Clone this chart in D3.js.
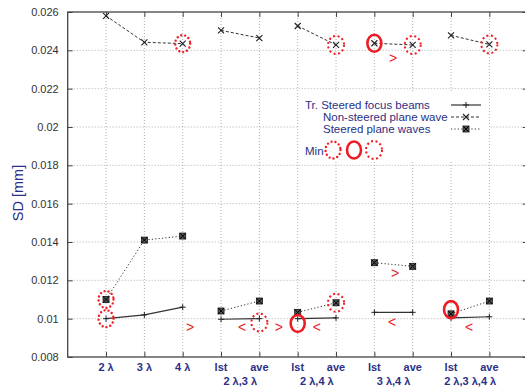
<!DOCTYPE html>
<html><head><meta charset="utf-8">
<script src="https://cdn.jsdelivr.net/npm/d3@7"></script>
<style>body{margin:0;background:#fff}svg{display:block}</style>
</head><body>
<svg id="c" width="525" height="390"></svg>
<script>
const categories = ["2 λ","3 λ","4 λ","lst","ave","lst","ave","lst","ave","lst","ave"];
const groupLabels = ["2 λ,3 λ","2 λ,4 λ","3 λ,4 λ","2 λ,3 λ,4 λ"];
const groupSpans = [[4,5],[6,7],[8,9],[10,11]];
const segments = [[0,1,2],[3,4],[5,6],[7,8],[9,10]];
const seriesNames = ["Tr. Steered focus beams","Non-steered plane wave","Steered plane waves"];
const steeredFocus = [0.0100,0.0102,0.0106,0.00997,0.0100,0.0100,0.01004,0.01033,0.01033,0.01004,0.0101];
const nonSteered = [0.0258,0.02442,0.02435,0.02504,0.02464,0.02527,0.02428,0.02437,0.02428,0.02478,0.02431];
const steeredPlane = [0.0110,0.0141,0.01431,0.0104,0.01092,0.01033,0.01083,0.01292,0.01273,0.01025,0.01092];
const yTicks = [0.008,0.01,0.012,0.014,0.016,0.018,0.02,0.022,0.024,0.026];
const yTickLabels = ["0.008","0.01","0.012","0.014","0.016","0.018","0.02","0.022","0.024","0.026"];
// Min markers: [category position, value]
const minDotted = [[1,0.0100],[1,0.0110],[3,0.02435]];
const minSolid = [[8,0.02437],[6,0.00975],[10,0.01047]];
const minDashed = [[5,0.0098],[7,0.02428],[7,0.01083],[9,0.02428],[11,0.02431]];
// chevrons: [position, value, glyph]
const chevrons = [[3.19,0.00957,">"],[4.55,0.00957,"<"],[5.51,0.00957,">"],[6.5,0.00957,"<"],[8.46,0.00985,"<"],[10.47,0.00957,"<"],[8.49,0.0236,">"],[8.54,0.01239,">"]];

const svg = d3.select("#c");
const L = 67.7, R = 527.7, T = 12, B = 357;
const x = d3.scaleLinear().domain([0,12]).range([L,R]);
const y = d3.scaleLinear().domain([0.008,0.026]).range([B,T]);
const navy = "#2b2f86";
const pos = categories.map((d,i)=>i+1);

// grid
const grid = svg.append("g").attr("stroke","#9a9a9a").attr("stroke-width",0.8).attr("stroke-dasharray","1,2");
yTicks.slice(1,-1).forEach(v=>grid.append("line").attr("x1",L).attr("x2",R).attr("y1",y(v)).attr("y2",y(v)));
pos.forEach(p=>grid.append("line").attr("x1",x(p)).attr("x2",x(p)).attr("y1",T).attr("y2",B));

// axes (ticks inward, mirrored)
const axL = d3.axisLeft(y).tickValues(yTicks).tickFormat((d,i)=>yTickLabels[i]).tickSize(-5).tickPadding(9);
const gL = svg.append("g").attr("transform",`translate(${L},0)`).call(axL);
gL.select(".domain").remove();
gL.selectAll("text").attr("font-family","Liberation Sans, Arial").attr("font-size",11).attr("fill","#333");
gL.selectAll("line").attr("stroke","#444");
const axR = d3.axisRight(y).tickValues(yTicks).tickFormat("").tickSize(-5);
const gR = svg.append("g").attr("transform",`translate(${R},0)`).call(axR);
gR.select(".domain").remove(); gR.selectAll("line").attr("stroke","#444");
const axB = d3.axisBottom(x).tickValues(pos).tickFormat("").tickSize(-5);
const gB = svg.append("g").attr("transform",`translate(0,${B})`).call(axB);
gB.select(".domain").remove(); gB.selectAll("line").attr("stroke","#444");
const axT = d3.axisTop(x).tickValues(pos).tickFormat("").tickSize(-5);
const gT = svg.append("g").attr("transform",`translate(0,${T})`).call(axT);
gT.select(".domain").remove(); gT.selectAll("line").attr("stroke","#444");
svg.append("rect").attr("x",L).attr("y",T).attr("width",R-L).attr("height",B-T)
  .attr("fill","none").attr("stroke","#444").attr("stroke-width",1.3);

// x labels
const xl = svg.append("g").attr("font-family","Liberation Sans, Arial").attr("font-size",11).attr("font-weight","bold").attr("fill",navy).attr("text-anchor","middle");
categories.forEach((c,i)=>xl.append("text").attr("x",x(pos[i])).attr("y",371).text(c));
groupLabels.forEach((g,i)=>xl.append("text").attr("x",(x(groupSpans[i][0])+x(groupSpans[i][1]))/2).attr("y",385).text(g));

// y title
svg.append("text").attr("transform","translate(23,193) rotate(-90)").attr("text-anchor","middle")
  .attr("font-family","Liberation Sans, Arial").attr("font-size",14.5).attr("fill",navy).text("SD [mm]");

// series
const seriesData = [steeredFocus, nonSteered, steeredPlane];
const dashes = [null,"3,2","1.2,2.2"];
const line = d3.line().x(d=>x(d[0])).y(d=>y(d[1]));
function marker(g,type,cx,cy){
  if(type===0){
    g.append("path").attr("d",`M${cx-3},${cy}H${cx+3}M${cx},${cy-3}V${cy+3}`).attr("stroke","#222").attr("stroke-width",1);
  } else if(type===1){
    g.append("path").attr("d",`M${cx-3},${cy-3}L${cx+3},${cy+3}M${cx-3},${cy+3}L${cx+3},${cy-3}`).attr("stroke","#222").attr("stroke-width",1.1);
  } else {
    g.append("rect").attr("x",cx-3).attr("y",cy-3).attr("width",6).attr("height",6).attr("fill","#555").attr("stroke","#111").attr("stroke-width",0.8);
    g.append("path").attr("d",`M${cx-3},${cy-3}L${cx+3},${cy+3}M${cx-3},${cy+3}L${cx+3},${cy-3}`).attr("stroke","#000").attr("stroke-width",1);
  }
}
seriesData.forEach((s,k)=>{
  const g = svg.append("g");
  segments.forEach(seg=>{
    g.append("path").attr("d",line(seg.map(i=>[pos[i],s[i]]))).attr("fill","none")
      .attr("stroke","#333").attr("stroke-width",k===0?1.2:1).attr("stroke-dasharray",dashes[k]);
  });
  s.forEach((v,i)=>marker(g,k,x(pos[i]),y(v)));
});

// min annotations
const red = "#ee1c24";
function dotted(g,cx,cy){g.append("ellipse").attr("cx",cx).attr("cy",cy).attr("rx",7.5).attr("ry",8.5).attr("fill","none").attr("stroke",red).attr("stroke-width",2.4).attr("stroke-linecap","round").attr("stroke-dasharray","0,4");}
function solid(g,cx,cy){g.append("ellipse").attr("cx",cx).attr("cy",cy).attr("rx",7).attr("ry",8.5).attr("fill","none").attr("stroke",red).attr("stroke-width",2.6);}
function dashed(g,cx,cy){g.append("ellipse").attr("cx",cx).attr("cy",cy).attr("rx",8).attr("ry",9).attr("fill","none").attr("stroke",red).attr("stroke-width",2).attr("stroke-dasharray","2,2.6");}
const ann = svg.append("g");
minDotted.forEach(d=>dotted(ann,x(d[0]),y(d[1])));
minSolid.forEach(d=>solid(ann,x(d[0]),y(d[1])));
minDashed.forEach(d=>dashed(ann,x(d[0]),y(d[1])));
chevrons.forEach(d=>ann.append("text").attr("x",x(d[0])).attr("y",y(d[1])+5).attr("text-anchor","middle")
  .attr("font-family","Liberation Sans, Arial").attr("font-size",14).attr("fill",red).text(d[2]));

// legend
const lg = svg.append("g");
lg.append("rect").attr("x",299).attr("y",93).attr("width",190).attr("height",69).attr("fill","#fff");
const lgX = [305,323,323], lgY = [109,121,133];
seriesNames.forEach((n,k)=>{
  lg.append("text").attr("x",lgX[k]).attr("y",lgY[k]).attr("font-family","Liberation Sans, Arial").attr("font-size",11.5).attr("fill",navy).text(n);
  lg.append("path").attr("d",`M451,${lgY[k]-4}H481`).attr("stroke","#333").attr("stroke-width",k===0?1.2:1).attr("stroke-dasharray",dashes[k]);
  marker(lg,k,466,lgY[k]-4);
});
lg.append("text").attr("x",305).attr("y",155).attr("font-family","Liberation Sans, Arial").attr("font-size",11.5).attr("fill",navy).text("Min");
dotted(lg,333,150); solid(lg,354,150); dashed(lg,374,150);
</script>
</body></html>
